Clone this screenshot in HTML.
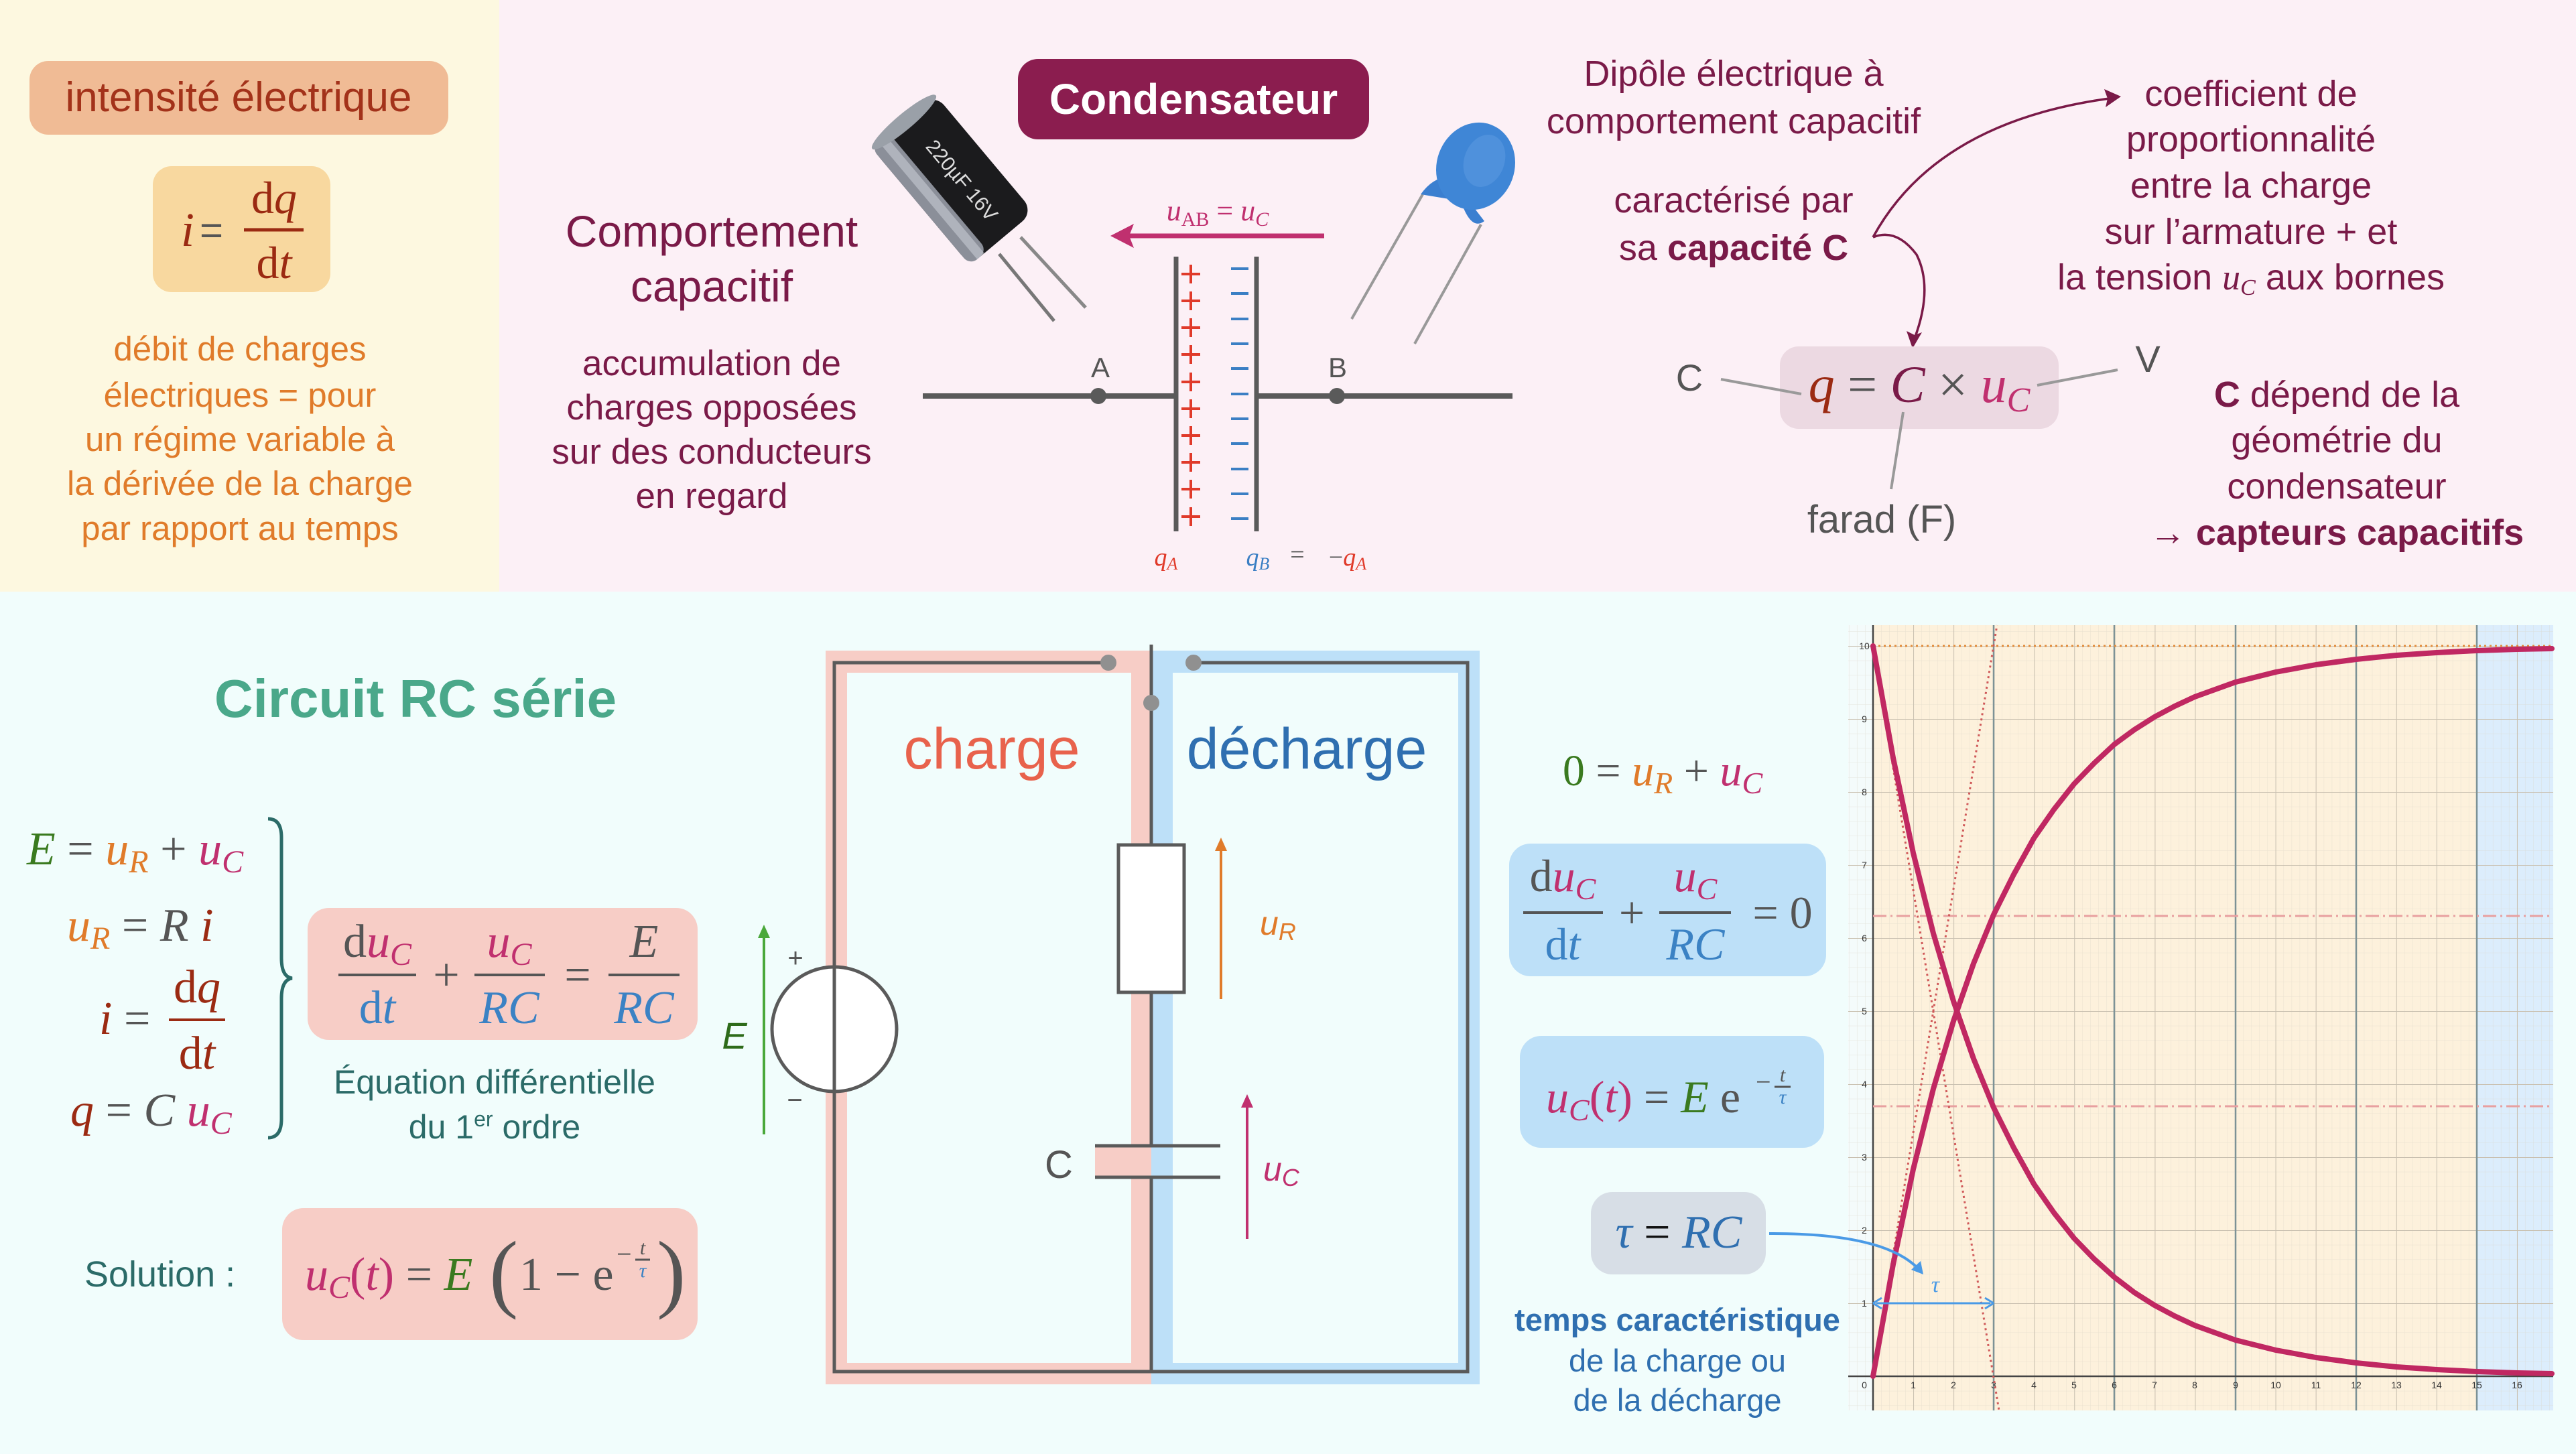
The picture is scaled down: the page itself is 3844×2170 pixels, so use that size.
<!DOCTYPE html>
<html><head><meta charset="utf-8"><style>
html,body{margin:0;padding:0;background:#f1fdfc;}
svg{display:block}
text{font-family:"Liberation Sans",sans-serif}
.m{font-family:"Liberation Serif",serif;font-style:italic}
.r{font-family:"Liberation Serif",serif;font-style:normal}
</style></head><body>
<svg width="3844" height="2170" viewBox="0 0 3844 2170" xmlns="http://www.w3.org/2000/svg">
<defs>
<pattern id="gmin" patternUnits="userSpaceOnUse" x="2795" y="2054" width="12.012" height="21.8">
<path d="M0 0V21.8M0 0H12.012" stroke="#d8d2c4" stroke-width="1" fill="none" opacity="0.55"/>
</pattern>
<pattern id="gmaj" patternUnits="userSpaceOnUse" x="2795" y="2054" width="60.06" height="109">
<path d="M0 0V109M0 0H60.06" stroke="#c9c0b0" stroke-width="2" fill="none"/>
</pattern>
<marker id="ah" markerWidth="10" markerHeight="10" refX="8" refY="5" orient="auto" markerUnits="userSpaceOnUse"><path d="M0 0L10 5L0 10z" fill="#7a1a48"/></marker>
</defs>

<!-- backgrounds -->
<rect x="0" y="0" width="3844" height="2170" fill="#f1fdfc"/>
<rect x="0" y="0" width="745" height="883" fill="#fdf8e0"/>
<rect x="745" y="0" width="3099" height="883" fill="#fcf0f6"/>

<!-- LEFT PANEL -->
<rect x="44" y="91" width="625" height="110" rx="28" fill="#f0bb95"/>
<text x="356" y="166" font-size="62" fill="#a3321a" text-anchor="middle">intensité électrique</text>
<rect x="228" y="248" width="265" height="188" rx="28" fill="#f8d89f"/>
<text x="270" y="367" class="m" font-size="72" fill="#9b2a12">i</text>
<text x="298" y="364" font-size="60" fill="#555">=</text>
<line x1="364" y1="343" x2="453" y2="343" stroke="#9b2a12" stroke-width="5"/>
<text x="409" y="318" class="r" font-size="68" fill="#9b2a12" text-anchor="middle">d<tspan class="m">q</tspan></text>
<text x="409" y="415" class="r" font-size="68" fill="#9b2a12" text-anchor="middle">d<tspan class="m">t</tspan></text>
<g font-size="51" fill="#e07b2a" text-anchor="middle">
<text x="358" y="538">débit de charges</text>
<text x="358" y="607">électriques = pour</text>
<text x="358" y="673">un régime variable à</text>
<text x="358" y="739">la dérivée de la charge</text>
<text x="358" y="806">par rapport au temps</text>
</g>

<!-- CONDENSATEUR -->
<rect x="1519" y="88" width="524" height="120" rx="30" fill="#8b1d4f"/>
<text x="1781" y="170" font-size="64" font-weight="bold" fill="#fff" text-anchor="middle">Condensateur</text>
<g fill="#7a1a48" text-anchor="middle">
<text x="1062" y="368" font-size="66">Comportement</text>
<text x="1062" y="450" font-size="66">capacitif</text>
<text x="1062" y="560" font-size="53">accumulation de</text>
<text x="1062" y="626" font-size="53">charges opposées</text>
<text x="1062" y="692" font-size="53">sur des conducteurs</text>
<text x="1062" y="758" font-size="53">en regard</text>
</g>

<!-- electrolytic capacitor photo -->
<line x1="1491" y1="379" x2="1573" y2="479" stroke="#777" stroke-width="5"/>
<line x1="1523" y1="354" x2="1620" y2="459" stroke="#888" stroke-width="5"/>
<g transform="translate(1421,268) rotate(-40)">
<rect x="-62" y="-115" width="124" height="230" rx="22" fill="#1b1b1d"/>
<rect x="-62" y="-115" width="34" height="230" rx="14" fill="#8b8f99"/>
<rect x="-48" y="-115" width="14" height="230" fill="#c8ccd4" opacity="0.6"/>
<ellipse cx="0" cy="-112" rx="62" ry="12" fill="#9aa0a8"/>
<text x="10" y="0" font-size="30" fill="#ddd" text-anchor="middle" transform="rotate(90)">220µF 16V</text>
</g>

<!-- ceramic capacitor photo -->
<line x1="2123" y1="290" x2="2017" y2="476" stroke="#999" stroke-width="4"/>
<line x1="2210" y1="335" x2="2111" y2="513" stroke="#999" stroke-width="4"/>
<path d="M2120 290 Q2140 262 2165 265 L2215 330 Q2195 345 2180 300 Z" fill="#3b7fd0"/>
<ellipse cx="2202" cy="248" rx="58" ry="66" transform="rotate(20 2202 248)" fill="#3f86d6"/>
<ellipse cx="2215" cy="240" rx="30" ry="40" transform="rotate(20 2215 240)" fill="#5a9ae0" opacity="0.6"/>

<!-- uAB arrow -->
<text x="1817" y="329" class="m" font-size="44" fill="#c0306f" text-anchor="middle">u<tspan font-size="30" class="r" dy="8">AB</tspan><tspan dy="-8" class="r"> = </tspan>u<tspan font-size="30" dy="8">C</tspan></text>
<line x1="1976" y1="352" x2="1685" y2="352" stroke="#c0306f" stroke-width="7"/>
<path d="M1657 352 L1692 334 L1685 352 L1692 370 Z" fill="#c0306f"/>

<!-- plates & wires -->
<line x1="1377" y1="591" x2="1755" y2="591" stroke="#5a5a5a" stroke-width="8"/>
<line x1="1875" y1="591" x2="2257" y2="591" stroke="#5a5a5a" stroke-width="8"/>
<line x1="1755" y1="383" x2="1755" y2="793" stroke="#5a5a5a" stroke-width="7"/>
<line x1="1875" y1="383" x2="1875" y2="793" stroke="#5a5a5a" stroke-width="7"/>
<circle cx="1639" cy="591" r="12" fill="#5a5a5a"/>
<circle cx="1995" cy="591" r="12" fill="#5a5a5a"/>
<text x="1642" y="563" font-size="42" fill="#555" text-anchor="middle">A</text>
<text x="1996" y="563" font-size="42" fill="#555" text-anchor="middle">B</text>
<g stroke="#e03a2a" stroke-width="4">
<path d="M1763 409h28M1777 395v28 M1763 449h28M1777 435v28 M1763 489h28M1777 475v28 M1763 529h28M1777 515v28 M1763 570h28M1777 556v28 M1763 610h28M1777 596v28 M1763 650h28M1777 636v28 M1763 690h28M1777 676v28 M1763 730h28M1777 716v28 M1763 771h28M1777 757v28"/>
</g>
<g stroke="#3b7fc4" stroke-width="4">
<path d="M1837 401h26M1837 438h26M1837 476h26M1837 513h26M1837 550h26M1837 588h26M1837 625h26M1837 662h26M1837 700h26M1837 737h26M1837 774h26"/>
</g>
<text x="1740" y="844" class="m" font-size="38" fill="#e03a2a" text-anchor="middle">q<tspan font-size="26" dy="6">A</tspan></text>
<text x="1877" y="844" class="m" font-size="38" fill="#3b7fc4" text-anchor="middle">q<tspan font-size="26" dy="6">B</tspan></text>
<text x="1936" y="840" class="r" font-size="38" fill="#555" text-anchor="middle">=</text>
<text x="2011" y="844" class="m" font-size="38" fill="#e03a2a" text-anchor="middle"><tspan fill="#555" class="r">−</tspan>q<tspan font-size="26" dy="6">A</tspan></text>

<!-- right texts -->
<g fill="#7a1a48" text-anchor="middle" font-size="54">
<text x="2587" y="128">Dipôle électrique à</text>
<text x="2587" y="199">comportement capacitif</text>
<text x="2587" y="317">caractérisé par</text>
<text x="2587" y="388">sa <tspan font-weight="bold">capacité C</tspan></text>
<text x="3359" y="158">coefficient de</text>
<text x="3359" y="226">proportionnalité</text>
<text x="3359" y="295">entre la charge</text>
<text x="3359" y="364">sur l’armature + et</text>
<text x="3359" y="432">la tension <tspan class="m">u</tspan><tspan class="m" font-size="34" dy="8">C</tspan><tspan dy="-8"> aux bornes</tspan></text>
<text x="3487" y="607"><tspan font-weight="bold">C</tspan> dépend de la</text>
<text x="3487" y="675">géométrie du</text>
<text x="3487" y="744">condensateur</text>
<text x="3487" y="813">→ <tspan font-weight="bold">capteurs capacitifs</tspan></text>
</g>
<path d="M2795 354 Q2890 180 3155 146" stroke="#7a1a48" stroke-width="3.5" fill="none"/>
<path d="M3165 144 L3140 133 L3145 147 L3142 160 Z" fill="#7a1a48"/>
<path d="M2795 354 Q2830 340 2860 380 Q2885 430 2857 505" stroke="#7a1a48" stroke-width="3.5" fill="none"/>
<path d="M2854 520 L2845 494 L2857 500 L2868 496 Z" fill="#7a1a48"/>

<rect x="2656" y="517" width="416" height="123" rx="28" fill="#ecd9e2"/>
<text x="2864" y="600" class="m" font-size="78" text-anchor="middle"><tspan fill="#9b2a12">q</tspan><tspan class="r" fill="#555"> = </tspan><tspan fill="#7a1a48">C</tspan><tspan class="r" fill="#555"> × </tspan><tspan fill="#c0306f">u</tspan><tspan fill="#c0306f" font-size="52" dy="14">C</tspan></text>
<g stroke="#999" stroke-width="4">
<line x1="2568" y1="566" x2="2688" y2="588"/>
<line x1="3040" y1="575" x2="3160" y2="552"/>
<line x1="2840" y1="615" x2="2822" y2="730"/>
</g>
<text x="2521" y="583" font-size="56" fill="#555" text-anchor="middle">C</text>
<text x="3205" y="555" font-size="56" fill="#555" text-anchor="middle">V</text>
<text x="2808" y="795" font-size="58" fill="#555" text-anchor="middle">farad (F)</text>

<!-- BOTTOM LEFT -->
<text x="620" y="1070" font-size="80" font-weight="bold" fill="#4aa88a" text-anchor="middle">Circuit RC série</text>
<g font-size="70">
<text x="40" y="1290" class="m"><tspan fill="#3a7a1f">E</tspan><tspan class="r" fill="#555"> = </tspan><tspan fill="#e07b2a">u</tspan><tspan fill="#e07b2a" font-size="48" dy="12">R</tspan><tspan class="r" fill="#555" dy="-12"> + </tspan><tspan fill="#c0306f">u</tspan><tspan fill="#c0306f" font-size="48" dy="12">C</tspan></text>
<text x="100" y="1404" class="m"><tspan fill="#e07b2a">u</tspan><tspan fill="#e07b2a" font-size="48" dy="12">R</tspan><tspan class="r" fill="#555" dy="-12"> = </tspan><tspan fill="#555">R</tspan><tspan fill="#9b2a12"> i</tspan></text>
<text x="148" y="1543" class="m" fill="#9b2a12">i<tspan class="r" fill="#555"> =</tspan></text>
<line x1="252" y1="1522" x2="336" y2="1522" stroke="#9b2a12" stroke-width="4"/>
<text x="294" y="1496" class="r" fill="#9b2a12" text-anchor="middle">d<tspan class="m">q</tspan></text>
<text x="294" y="1595" class="r" fill="#9b2a12" text-anchor="middle">d<tspan class="m">t</tspan></text>
<text x="105" y="1680" class="m"><tspan fill="#9b2a12">q</tspan><tspan class="r" fill="#555"> = </tspan><tspan fill="#555">C </tspan><tspan fill="#c0306f">u</tspan><tspan fill="#c0306f" font-size="48" dy="12">C</tspan></text>
</g>
<path d="M400 1222 Q420 1222 420 1250 L420 1430 Q420 1458 436 1460 Q420 1462 420 1490 L420 1670 Q420 1698 400 1698" stroke="#2b6b68" stroke-width="5" fill="none"/>

<rect x="459" y="1355" width="582" height="197" rx="32" fill="#f7cdc6"/>
<g font-size="70">
<line x1="505" y1="1455" x2="621" y2="1455" stroke="#555" stroke-width="4"/>
<text x="563" y="1428" class="r" fill="#555" text-anchor="middle">d<tspan class="m" fill="#c0306f">u</tspan><tspan class="m" fill="#c0306f" font-size="48" dy="12">C</tspan></text>
<text x="563" y="1527" class="r" fill="#3b82c4" text-anchor="middle">d<tspan class="m">t</tspan></text>
<text x="666" y="1478" class="r" fill="#555" text-anchor="middle">+</text>
<line x1="708" y1="1455" x2="813" y2="1455" stroke="#555" stroke-width="4"/>
<text x="760" y="1428" class="m" fill="#c0306f" text-anchor="middle">u<tspan font-size="48" dy="12">C</tspan></text>
<text x="760" y="1527" class="m" fill="#3b82c4" text-anchor="middle">RC</text>
<text x="862" y="1478" class="r" fill="#555" text-anchor="middle">=</text>
<line x1="908" y1="1455" x2="1014" y2="1455" stroke="#555" stroke-width="4"/>
<text x="961" y="1428" class="m" fill="#555" text-anchor="middle">E</text>
<text x="961" y="1527" class="m" fill="#3b82c4" text-anchor="middle">RC</text>
</g>
<text x="738" y="1632" font-size="50" fill="#2b6b68" text-anchor="middle">Équation différentielle</text>
<text x="738" y="1699" font-size="50" fill="#2b6b68" text-anchor="middle">du 1<tspan font-size="32" dy="-18">er</tspan><tspan dy="18"> ordre</tspan></text>

<text x="126" y="1920" font-size="54" fill="#2b6b68">Solution :</text>
<rect x="421" y="1803" width="620" height="197" rx="32" fill="#f7cdc6"/>
<text x="455" y="1925" class="m" font-size="70" fill="#c0306f">u<tspan font-size="48" dy="12">C</tspan><tspan class="r" dy="-12">(</tspan>t<tspan class="r">)</tspan><tspan class="r" fill="#555"> = </tspan><tspan fill="#3a7a1f">E</tspan></text>
<text x="730" y="1942" class="r" font-size="130" fill="#555" transform="scale(1,1)">(</text>
<text x="775" y="1925" class="r" font-size="70" fill="#555">1 − e</text>
<text x="920" y="1885" class="r" font-size="40" fill="#555">−</text>
<line x1="948" y1="1880" x2="970" y2="1880" stroke="#555" stroke-width="3"/>
<text x="959" y="1872" class="m" font-size="30" fill="#555" text-anchor="middle">t</text>
<text x="959" y="1906" class="m" font-size="30" fill="#3b82c4" text-anchor="middle">τ</text>
<text x="980" y="1942" class="r" font-size="130" fill="#555">)</text>

<!-- CIRCUIT -->
<rect x="1232" y="971" width="486" height="1095" fill="#f7cdc6"/>
<rect x="1718" y="971" width="490" height="1095" fill="#bde0f8"/>
<rect x="1264" y="1004" width="424" height="1030" fill="#f1fdfc"/>
<rect x="1750" y="1004" width="426" height="1030" fill="#f1fdfc"/>
<g stroke="#5a5a5a" stroke-width="5" fill="none">
<path d="M1654 989 H1245 V2047 H2190 V989 H1781"/>
<line x1="1718" y1="962" x2="1718" y2="2047"/>
</g>
<circle cx="1654" cy="989" r="12" fill="#909090"/>
<circle cx="1781" cy="989" r="12" fill="#909090"/>
<circle cx="1718" cy="1049" r="12" fill="#909090"/>
<rect x="1669" y="1261" width="98" height="220" fill="#fff" stroke="#5a5a5a" stroke-width="5"/>
<rect x="1634" y="1712" width="187" height="44" fill="#f1fdfc"/>
<rect x="1634" y="1712" width="84" height="44" fill="#f7cdc6"/>
<rect x="1718" y="1712" width="32" height="44" fill="#bde0f8"/>
<line x1="1718" y1="1712" x2="1718" y2="1756" stroke="#f1fdfc" stroke-width="0"/>
<line x1="1634" y1="1710" x2="1821" y2="1710" stroke="#5a5a5a" stroke-width="5"/>
<line x1="1634" y1="1757" x2="1821" y2="1757" stroke="#5a5a5a" stroke-width="5"/>
<rect x="1716" y="1713" width="5" height="42" fill="#f1fdfc" opacity="0"/>
<circle cx="1245" cy="1536" r="93" fill="#fff" stroke="#5a5a5a" stroke-width="5"/>
<line x1="1245" y1="1443" x2="1245" y2="1629" stroke="#5a5a5a" stroke-width="5"/>
<text x="1187" y="1443" font-size="40" fill="#555" text-anchor="middle">+</text>
<text x="1186" y="1655" font-size="40" fill="#555" text-anchor="middle">−</text>
<line x1="1140" y1="1693" x2="1140" y2="1395" stroke="#4aa83a" stroke-width="4"/>
<path d="M1140 1380 L1131 1400 L1149 1400 Z" fill="#4aa83a"/>
<text x="1096" y="1565" font-size="56" font-style="italic" fill="#2e6b1a" text-anchor="middle">E</text>
<line x1="1822" y1="1491" x2="1822" y2="1265" stroke="#e07b2a" stroke-width="4"/>
<path d="M1822 1250 L1813 1270 L1831 1270 Z" fill="#e07b2a"/>
<text x="1880" y="1395" font-size="50" font-style="italic" fill="#e07b2a">u<tspan font-size="36" dy="8">R</tspan></text>
<line x1="1861" y1="1849" x2="1861" y2="1648" stroke="#c0306f" stroke-width="4"/>
<path d="M1861 1633 L1852 1653 L1870 1653 Z" fill="#c0306f"/>
<text x="1885" y="1762" font-size="50" font-style="italic" fill="#c0306f">u<tspan font-size="36" dy="8">C</tspan></text>
<text x="1580" y="1758" font-size="58" fill="#555" text-anchor="middle">C</text>
<text x="1480" y="1147" font-size="86" fill="#e8624c" text-anchor="middle">charge</text>
<text x="1950" y="1147" font-size="86" fill="#2f6fb0" text-anchor="middle">décharge</text>

<!-- BOTTOM RIGHT EQS -->
<text x="2481" y="1172" class="m" font-size="66" text-anchor="middle"><tspan class="r" fill="#3a7a1f">0</tspan><tspan class="r" fill="#555"> = </tspan><tspan fill="#e07b2a">u</tspan><tspan fill="#e07b2a" font-size="46" dy="12">R</tspan><tspan class="r" fill="#555" dy="-12"> + </tspan><tspan fill="#c0306f">u</tspan><tspan fill="#c0306f" font-size="46" dy="12">C</tspan></text>
<rect x="2252" y="1259" width="473" height="198" rx="32" fill="#bde0f8"/>
<g font-size="68">
<line x1="2273" y1="1362" x2="2392" y2="1362" stroke="#555" stroke-width="4"/>
<text x="2332" y="1330" class="r" fill="#555" text-anchor="middle">d<tspan class="m" fill="#c0306f">u</tspan><tspan class="m" fill="#c0306f" font-size="46" dy="12">C</tspan></text>
<text x="2332" y="1432" class="r" fill="#3b82c4" text-anchor="middle">d<tspan class="m">t</tspan></text>
<text x="2435" y="1385" class="r" fill="#555" text-anchor="middle">+</text>
<line x1="2476" y1="1362" x2="2583" y2="1362" stroke="#555" stroke-width="4"/>
<text x="2530" y="1330" class="m" fill="#c0306f" text-anchor="middle">u<tspan font-size="46" dy="12">C</tspan></text>
<text x="2530" y="1432" class="m" fill="#3b82c4" text-anchor="middle">RC</text>
<text x="2660" y="1385" class="r" fill="#555" text-anchor="middle">= 0</text>
</g>
<rect x="2268" y="1546" width="454" height="167" rx="32" fill="#bde0f8"/>
<text x="2307" y="1660" class="m" font-size="68" fill="#c0306f">u<tspan font-size="46" dy="12">C</tspan><tspan class="r" dy="-12">(</tspan>t<tspan class="r">)</tspan><tspan class="r" fill="#555"> = </tspan><tspan fill="#3a7a1f">E</tspan><tspan class="r" fill="#555"> e</tspan></text>
<text x="2620" y="1628" class="r" font-size="40" fill="#555">−</text>
<line x1="2648" y1="1622" x2="2672" y2="1622" stroke="#555" stroke-width="3"/>
<text x="2660" y="1614" class="m" font-size="30" fill="#555" text-anchor="middle">t</text>
<text x="2660" y="1647" class="m" font-size="30" fill="#3b82c4" text-anchor="middle">τ</text>
<rect x="2374" y="1779" width="261" height="123" rx="32" fill="#d7dee6"/>
<text x="2505" y="1862" class="m" font-size="70" fill="#2f6fb0" text-anchor="middle">τ<tspan class="r" fill="#111"> = </tspan>RC</text>
<text x="2503" y="1986" font-size="47" font-weight="bold" fill="#2f6fb0" text-anchor="middle">temps caractéristique</text>
<text x="2503" y="2047" font-size="47" fill="#2f6fb0" text-anchor="middle">de la charge ou</text>
<text x="2503" y="2106" font-size="47" fill="#2f6fb0" text-anchor="middle">de la décharge</text>

<!-- GRAPH -->
<rect x="2758" y="933" width="1052" height="1172" fill="#f4fbfb"/>
<rect x="2795" y="933" width="901" height="1172" fill="#fdf1dc"/>
<rect x="3696" y="933" width="114" height="1172" fill="#dcedfc"/>
<rect x="2758" y="933" width="1052" height="1172" fill="url(#gmin)"/>
<rect x="2758" y="933" width="1052" height="1172" fill="url(#gmaj)"/>
<g stroke="#7d9296" stroke-width="2.5">
<line x1="2975" y1="933" x2="2975" y2="2105"/>
<line x1="3155" y1="933" x2="3155" y2="2105"/>
<line x1="3336" y1="933" x2="3336" y2="2105"/>
<line x1="3516" y1="933" x2="3516" y2="2105"/>
<line x1="3696" y1="933" x2="3696" y2="2105"/>
</g>
<line x1="2795" y1="933" x2="2795" y2="2105" stroke="#444" stroke-width="2.5"/>
<line x1="2758" y1="2054" x2="3810" y2="2054" stroke="#444" stroke-width="2.5"/>
<g font-size="14" fill="#333" text-anchor="middle">
<text x="2782" y="2072">0</text><text x="2855" y="2072">1</text><text x="2915" y="2072">2</text><text x="2975" y="2072">3</text><text x="3035" y="2072">4</text><text x="3095" y="2072">5</text><text x="3155" y="2072">6</text><text x="3215" y="2072">7</text><text x="3275" y="2072">8</text><text x="3336" y="2072">9</text><text x="3396" y="2072">10</text><text x="3456" y="2072">11</text><text x="3516" y="2072">12</text><text x="3576" y="2072">13</text><text x="3636" y="2072">14</text><text x="3696" y="2072">15</text><text x="3756" y="2072">16</text>
<text x="2782" y="1950">1</text><text x="2782" y="1841">2</text><text x="2782" y="1732">3</text><text x="2782" y="1623">4</text><text x="2782" y="1514">5</text><text x="2782" y="1405">6</text><text x="2782" y="1296">7</text><text x="2782" y="1187">8</text><text x="2782" y="1078">9</text><text x="2782" y="969">10</text>
</g>
<line x1="2795" y1="964" x2="3810" y2="964" stroke="#e08a3a" stroke-width="3" stroke-dasharray="3 5"/>
<line x1="2795" y1="1367" x2="3810" y2="1367" stroke="#e8a0a0" stroke-width="3" stroke-dasharray="20 6 3 6"/>
<line x1="2795" y1="1651" x2="3810" y2="1651" stroke="#e8a0a0" stroke-width="3" stroke-dasharray="20 6 3 6"/>
<line x1="2795" y1="2054" x2="2980" y2="933" stroke="#d05a5a" stroke-width="3" stroke-dasharray="3 5"/>
<line x1="2795" y1="964" x2="2983" y2="2105" stroke="#d05a5a" stroke-width="3" stroke-dasharray="3 5"/>
<polyline fill="none" stroke="#c02862" stroke-width="8" stroke-linejoin="round" stroke-linecap="round" points="2795,964 2825,1131 2855,1273 2885,1393 2915,1494 2945,1580 2975,1653 3005,1713 3035,1767 3065,1810 3095,1848 3125,1879 3155,1906 3185,1929 3215,1948 3245,1964 3275,1978 3336,2000 3396,2015 3456,2026 3516,2034 3576,2040 3636,2044 3696,2047 3756,2049 3808,2050"/>
<polyline fill="none" stroke="#c02862" stroke-width="8" stroke-linejoin="round" stroke-linecap="round" points="2795,2054 2825,1887 2855,1745 2885,1625 2915,1524 2945,1438 2975,1365 3005,1305 3035,1251 3065,1208 3095,1170 3125,1139 3155,1111 3185,1089 3215,1070 3245,1054 3275,1040 3336,1018 3396,1003 3456,992 3516,984 3576,978 3636,974 3696,971 3756,969 3808,968"/>
<line x1="2800" y1="1945" x2="2970" y2="1945" stroke="#4a9ae6" stroke-width="3"/>
<path d="M2795 1945 L2808 1937 M2795 1945 L2808 1953 M2975 1945 L2962 1937 M2975 1945 L2962 1953" stroke="#4a9ae6" stroke-width="3"/>
<text x="2888" y="1928" class="m" font-size="34" fill="#4a9ae6" text-anchor="middle">τ</text>
<path d="M2640 1841 Q2810 1840 2862 1893" stroke="#4a9ae6" stroke-width="4" fill="none"/>
<path d="M2870 1902 L2852 1895 L2866 1882 Z" fill="#4a9ae6"/>
</svg>
</body></html>
